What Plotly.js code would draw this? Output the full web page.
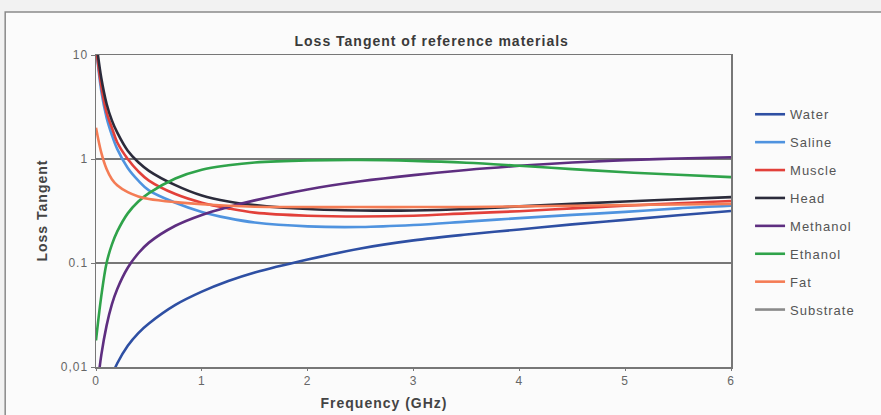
<!DOCTYPE html>
<html>
<head>
<meta charset="utf-8">
<script src="https://cdn.plot.ly/plotly-3.0.1.min.js"></script>
<style>
  html, body { margin: 0; padding: 0; background: #f2f2f2; }
  #chart { width: 881px; height: 415px; }
  /* slightly open letter spacing for all chart text */
  #chart text { letter-spacing: 1px; }
  /* let the wider legend labels show in full */
  #chart .legend .scrollbox { clip-path: none !important; }
</style>
</head>
<body>
<div id="chart"></div>
<script>
// Frequency grid in GHz
const freqGHz = [0, 0.05, 0.1, 0.15, 0.2, 0.3, 0.4, 0.5, 0.75, 1, 1.25, 1.5, 2, 2.5, 3, 3.5, 4, 4.5, 5, 5.5, 6];

// Loss tangent (tan delta) of each reference material at those frequencies
const water     = [null, 0.0028, 0.0055, 0.0082, 0.0108, 0.016, 0.0212, 0.0262, 0.0395, 0.053, 0.067, 0.081, 0.108, 0.138, 0.165, 0.188, 0.21, 0.235, 0.26, 0.288, 0.316];
const saline    = [12, 4.5, 2.5, 1.7, 1.25, 0.82, 0.62, 0.5, 0.38, 0.31, 0.27, 0.245, 0.225, 0.222, 0.232, 0.25, 0.27, 0.29, 0.31, 0.335, 0.355];
const muscle    = [12, 5.0, 2.8, 2.0, 1.45, 1.0, 0.76, 0.62, 0.46, 0.38, 0.335, 0.305, 0.285, 0.28, 0.285, 0.30, 0.315, 0.335, 0.355, 0.375, 0.395];
const head      = [14, 6.0, 3.4, 2.35, 1.8, 1.2, 0.93, 0.77, 0.56, 0.445, 0.39, 0.36, 0.33, 0.32, 0.32, 0.33, 0.35, 0.37, 0.39, 0.41, 0.43];
const methanol  = [0.005, 0.013, 0.025, 0.04, 0.056, 0.09, 0.124, 0.157, 0.228, 0.29, 0.345, 0.40, 0.51, 0.61, 0.70, 0.785, 0.86, 0.925, 0.975, 1.01, 1.04];
const ethanol   = [0.018, 0.048, 0.1, 0.15, 0.2, 0.3, 0.39, 0.47, 0.65, 0.79, 0.87, 0.925, 0.97, 0.98, 0.96, 0.92, 0.86, 0.8, 0.745, 0.705, 0.67];
const fat       = [2.0, 1.15, 0.8, 0.64, 0.56, 0.48, 0.437, 0.413, 0.385, 0.367, 0.355, 0.348, 0.345, 0.345, 0.345, 0.346, 0.35, 0.355, 0.36, 0.365, 0.37];
const substrate = [0.003, 0.003, 0.003, 0.003, 0.003, 0.003, 0.003, 0.003, 0.003, 0.003, 0.003, 0.003, 0.003, 0.003, 0.003, 0.003, 0.003, 0.003, 0.003, 0.003, 0.003];

const seriesNames = ["Water", "Saline", "Muscle", "Head", "Methanol", "Ethanol", "Fat", "Substrate"];
const seriesData  = [water, saline, muscle, head, methanol, ethanol, fat, substrate];
const seriesColors = ["#2e4fa3", "#4f93df", "#e2403a", "#2b2b3b", "#5e2e80", "#2fa34a", "#f47c55", "#8a8a8a"];

// y-axis decade ticks
const yTickVals = [0.01, 0.1, 1, 10];
const yTickText = ["0,01", "0.1", "1", "10"];
const xTickVals = [0, 1, 2, 3, 4, 5, 6];

const FONT = "Liberation Sans, Arial, sans-serif";

const traces = seriesNames.map((name, i) => ({
  x: freqGHz,
  y: seriesData[i],
  name: name,
  type: "scatter",
  mode: "lines",
  legendgroup: name,
  connectgaps: false,
  line: { color: seriesColors[i], width: 2.6, shape: "spline", smoothing: 1 },
  hoverinfo: "x+y+name"
}));

const layout = {
  width: 881,
  height: 415,
  paper_bgcolor: "#f2f2f2",
  plot_bgcolor: "rgba(0,0,0,0)",
  margin: { l: 96, r: 150, t: 55, b: 48 },
  font: { family: FONT, size: 12, color: "#555" },
  title: {
    text: "<b>Loss Tangent of reference materials</b>",
    font: { family: FONT, size: 14, color: "#3a3a3a" },
    x: 0.49, xanchor: "center",
    y: 0.901, yanchor: "middle"
  },
  xaxis: {
    range: [0, 6],
    tickvals: xTickVals,
    ticks: "outside", ticklen: 2, tickcolor: "#777",
    showline: true, linecolor: "#777", linewidth: 1.5, mirror: true,
    showgrid: false, zeroline: false,
    tickfont: { family: FONT, size: 12, color: "#666" }
  },
  yaxis: {
    type: "log",
    range: [-2, 1],
    tickvals: yTickVals,
    ticktext: yTickText,
    ticks: "outside", ticklen: 4, tickcolor: "#777",
    showline: true, linecolor: "#777", linewidth: 1.5, mirror: true,
    showgrid: true, gridcolor: "#777", gridwidth: 1.5,
    zeroline: false,
    tickfont: { family: FONT, size: 12, color: "#666" }
  },
  legend: {
    x: 1.03, xanchor: "left",
    y: 0.858, yanchor: "top",
    bgcolor: "rgba(0,0,0,0)",
    font: { family: FONT, size: 13, color: "#555" },
    tracegroupgap: 8,
    traceorder: "grouped"
  },
  shapes: [
    {
      type: "rect", xref: "paper", yref: "paper", layer: "below",
      x0: -0.143, x1: 1.24, y0: -0.2, y1: 1.138,
      fillcolor: "#fbfbfb", line: { color: "#8a8a8a", width: 1.5 }
    }
  ],
  annotations: [
    {
      text: "<b>Frequency (GHz)</b>", xref: "paper", yref: "paper",
      x: 0.4535, y: -0.1154, xanchor: "center", yanchor: "middle",
      showarrow: false, font: { family: FONT, size: 14, color: "#444" }
    },
    {
      text: "<b>Loss Tangent</b>", xref: "paper", yref: "paper",
      x: -0.0858, y: 0.5, xanchor: "center", yanchor: "middle",
      textangle: -90, showarrow: false,
      font: { family: FONT, size: 14, color: "#444" }
    }
  ]
};

Plotly.newPlot("chart", traces, layout, { displayModeBar: false, staticPlot: true });
</script>
</body>
</html>
